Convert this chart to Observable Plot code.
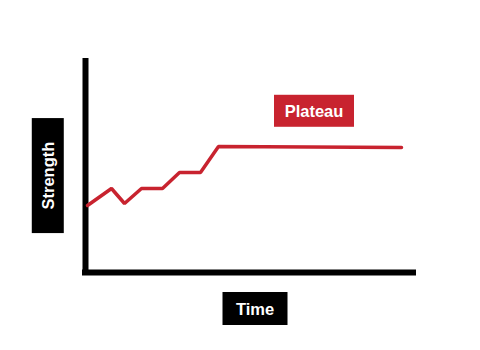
<!DOCTYPE html>
<html><head><meta charset="utf-8">
<script src="https://cdn.jsdelivr.net/npm/d3@7"></script>
<script src="https://cdn.jsdelivr.net/npm/@observablehq/plot@0.6"></script>
<style>body{margin:0;background:#fff} svg{display:block}</style>
</head><body><div id="chart"></div>
<script>
// Data (arbitrary units)
const time = [2, 26, 39, 56, 77, 94, 115, 133, 316];
const strength = [67, 84, 69, 84, 84, 100, 100, 126, 125];
const xLabel = "Time";
const yLabel = "Strength";
const annotation = "Plateau";

const red = "#c8232f";
const font = "'Liberation Sans', Arial, Helvetica, sans-serif";
const data = time.map((t, i) => ({t, s: strength[i]}));
const n = time.length;
const plateau = [{t: (time[n - 2] + time[n - 1]) / 2, s: strength[n - 2], label: annotation}];

const labelStyle = {fill: "white", fontWeight: "bold", fontSize: 16.5, fontFamily: font};

const chart = Plot.plot({
  width: 480, height: 350,
  marginLeft: 85, marginRight: 65, marginTop: 58, marginBottom: 78,
  x: {domain: [0, 330], axis: null},
  y: {domain: [0, 214], axis: null},
  style: {fontFamily: font, background: "white"},
  marks: [
    Plot.ruleX([0], {y1: -3, y2: 214, stroke: "black", strokeWidth: 6}),
    Plot.ruleY([0], {x1: -3, x2: 331, stroke: "black", strokeWidth: 6}),
    Plot.line(data, {x: "t", y: "s", stroke: red, strokeWidth: 3.5, strokeLinejoin: "miter"}),
    Plot.text(plateau, {x: "t", y: "s", text: "label", dx: 4, dy: -35, ...labelStyle}),
    Plot.text([xLabel], {text: d => d, frameAnchor: "bottom", dx: 4.5, dy: 42, ...labelStyle}),
    Plot.text([yLabel], {text: d => d, frameAnchor: "left", rotate: -90, dx: -37, dy: 44, ...labelStyle})
  ]
});
document.getElementById("chart").appendChild(chart);

// Background boxes behind the labels, centred on each label's own box
const boxes = new Map([[annotation, [80, 32, red]], [xLabel, [65, 33, "black"]], [yLabel, [115, 32, "black"]]]);
chart.querySelectorAll("text").forEach(t => {
  const b = boxes.get(t.textContent.trim());
  if (!b) return;
  const [w, h, fill] = b;
  const bb = t.getBBox();
  const cx = bb.x + bb.width / 2, cy = bb.y + bb.height / 2;
  const r = document.createElementNS("http://www.w3.org/2000/svg", "rect");
  const tr = t.getAttribute("transform");
  if (tr) r.setAttribute("transform", tr);
  r.setAttribute("x", cx - w / 2);
  r.setAttribute("y", cy - h / 2);
  r.setAttribute("width", w);
  r.setAttribute("height", h);
  r.setAttribute("fill", fill);
  t.parentNode.insertBefore(r, t);
});
</script>
</body></html>
